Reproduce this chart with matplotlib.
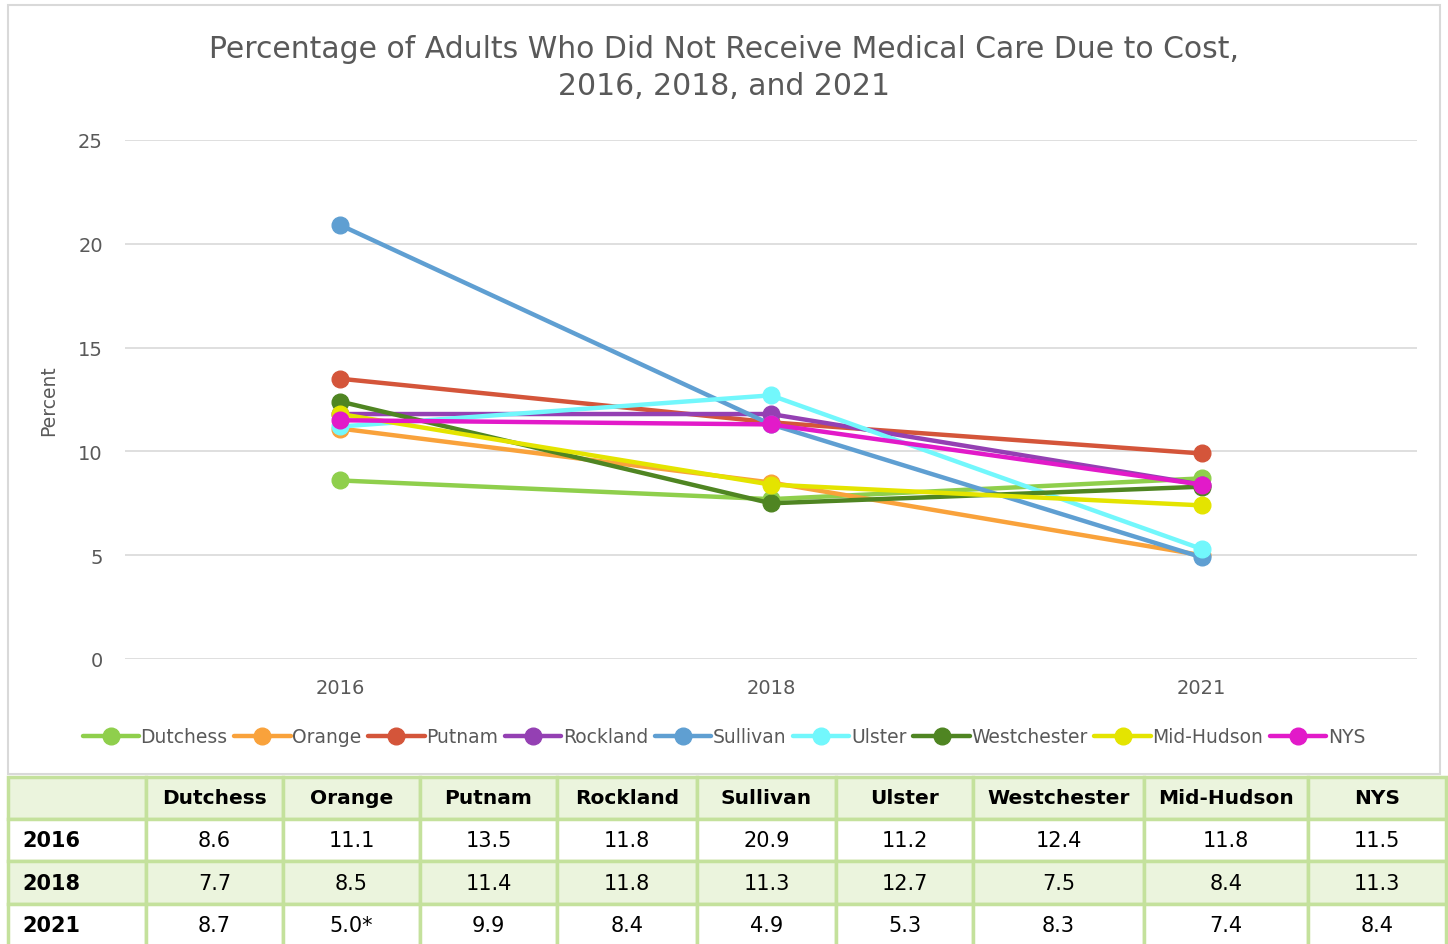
import matplotlib.pyplot as plt
from matplotlib.patches import Rectangle

plt.rcParams['font.family'] = ['DejaVu Sans']

years = ['2016', '2018', '2021']
regions = ['Dutchess', 'Orange', 'Putnam', 'Rockland', 'Sullivan',
           'Ulster', 'Westchester', 'Mid-Hudson', 'NYS']
dutchess = [8.6, 7.7, 8.7]
orange = [11.1, 8.5, 5.0]
putnam = [13.5, 11.4, 9.9]
rockland = [11.8, 11.8, 8.4]
sullivan = [20.9, 11.3, 4.9]
ulster = [11.2, 12.7, 5.3]
westchester = [12.4, 7.5, 8.3]
mid_hudson = [11.8, 8.4, 7.4]
nys = [11.5, 11.3, 8.4]
table_text = {
    'Dutchess': ['8.6', '7.7', '8.7'],
    'Orange': ['11.1', '8.5', '5.0*'],
    'Putnam': ['13.5', '11.4', '9.9'],
    'Rockland': ['11.8', '11.8', '8.4'],
    'Sullivan': ['20.9', '11.3', '4.9'],
    'Ulster': ['11.2', '12.7', '5.3'],
    'Westchester': ['12.4', '7.5', '8.3'],
    'Mid-Hudson': ['11.8', '8.4', '7.4'],
    'NYS': ['11.5', '11.3', '8.4'],
}

series = [dutchess, orange, putnam, rockland, sullivan,
          ulster, westchester, mid_hudson, nys]
colors = ['#8fcf4c', '#f9a23b', '#d4553a', '#9440b3', '#5f9fd2',
          '#72f7fc', '#4f8522', '#e4e400', '#e21ac9']

W, H = 1448, 945
fig = plt.figure(figsize=(W / 100, H / 100), dpi=100)

# chart frame
fig.patches.append(Rectangle((8 / W, 1 - 775 / H), 1432 / W, 769 / H,
                             transform=fig.transFigure, fill=False,
                             edgecolor='#d9d9d9', linewidth=1.5))

ax = fig.add_axes([125 / W, 1 - 660 / H, 1292 / W, 519 / H])
x = list(range(len(years)))
for name, vals, c in zip(regions, series, colors):
    ax.plot(x, vals, color=c, linewidth=3.2, marker='o', markersize=12,
            label=name, solid_capstyle='round')

ax.set_xlim(-0.5, 2.5)
ax.set_ylim(0, 25)
ax.set_yticks([0, 5, 10, 15, 20, 25])
ax.set_xticks(x)
ax.set_xticklabels(years)
ax.grid(axis='y', color='#d9d9d9', linewidth=1.2)
ax.set_axisbelow(True)
for s in ax.spines.values():
    s.set_visible(False)
ax.tick_params(length=0, labelsize=14, colors='#595959', pad=14)
ax.tick_params(axis='y', pad=16)
ax.set_ylabel('Percent', fontsize=13.5, color='#595959', labelpad=14)

fig.text(0.5, 1 - 68 / H, 'Percentage of Adults Who Did Not Receive Medical Care Due to Cost,\n2016, 2018, and 2021',
         ha='center', va='center', fontsize=21.5, color='#595959', linespacing=1.35)

fig.legend(loc='center', bbox_to_anchor=(0.5, 1 - 738 / H), ncol=9,
           frameon=False, fontsize=13.5, handlelength=3.0, handletextpad=0.1,
           columnspacing=0.35, labelcolor='#595959')

# data table
col_edges = [8, 146, 283, 420, 557, 697, 836, 973, 1144, 1308, 1446]
row_edges = [778, 820, 862, 905, 948]
tab = fig.add_axes([0, 0, 1, 1], zorder=-1)
tab.set_xlim(0, W)
tab.set_ylim(H, 0)
tab.axis('off')
header = [''] + regions
rows = [header] + [[y] + [table_text[r][i] for r in regions] for i, y in enumerate(years)]
fills = ['#ebf4dd', 'white', '#ebf4dd', 'white']
for ri, row in enumerate(rows):
    y0, y1 = row_edges[ri], row_edges[ri + 1]
    for ci, txt in enumerate(row):
        x0, x1 = col_edges[ci], col_edges[ci + 1]
        tab.add_patch(Rectangle((x0, y0), x1 - x0, y1 - y0, facecolor=fills[ri],
                                edgecolor='#c4e19c', linewidth=2.5))
        if ci == 0:
            tab.text(x0 + 14, (y0 + y1) / 2, txt, ha='left', va='center',
                     fontsize=15, fontweight='bold', color='black')
        else:
            tab.text((x0 + x1) / 2, (y0 + y1) / 2, txt, ha='center', va='center',
                     fontsize=14.5 if ri == 0 else 15,
                     fontweight='bold' if ri == 0 else 'normal',
                     color='black')

fig.savefig('out.png', dpi=100)
